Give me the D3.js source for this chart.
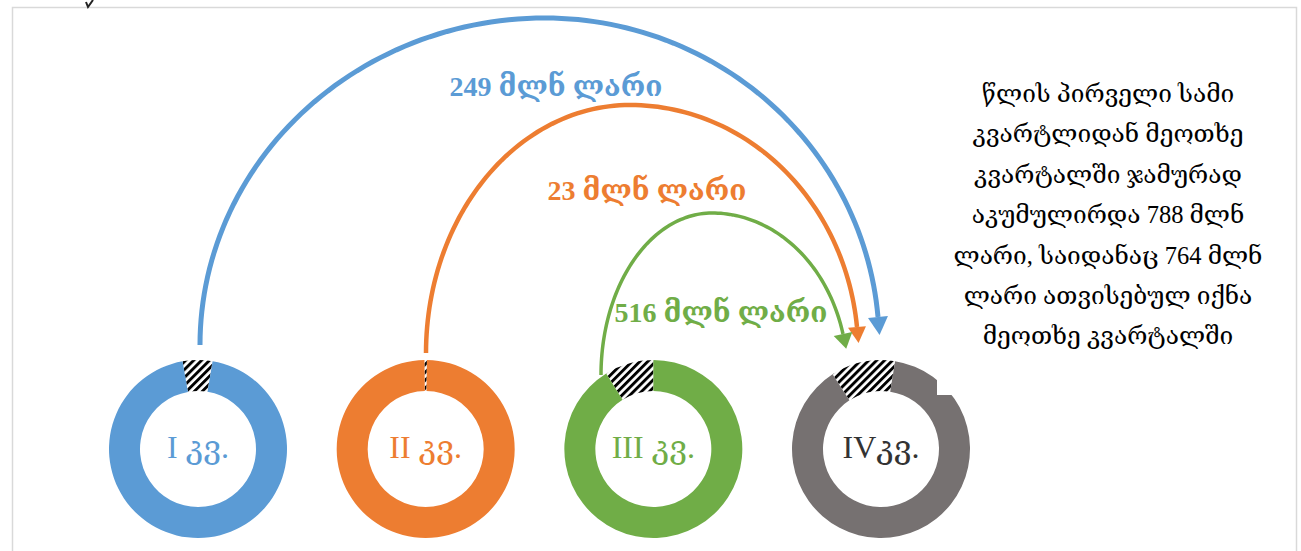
<!DOCTYPE html>
<meta charset="utf-8">
<style>
body { margin: 0; background: #fff; }
text { font-family: "Liberation Serif", "DejaVu Serif", serif; }
</style>
<body>
<script src="https://d3js.org/d3.v7.min.js"></script>
<script>

// data
var quarters = ["I", "II", "III", "IV"];
var quarterLabels = ["I კვ.", "II კვ.", "III კვ.", "IVკვ."];
var hatchShare = [0.054, 0.0045, 0.089, 0.117];   // share of ring that is hatched
var hatchOffset = [-10, -0.8, -32, -33];           // degrees from 12 o'clock
var flowFrom = [0, 1, 2];
var flowTo = 3;
var flowValues = [249, 23, 516];
var flowLabels = ["249 მლნ ლარი", "23 მლნ ლარი", "516 მლნ ლარი"];
var noteLines = [
  "წლის პირველი სამი",
  "კვარტლიდან მეოთხე",
  "კვარტალში ჯამურად",
  "აკუმულირდა 788 მლნ",
  "ლარი, საიდანაც 764 მლნ",
  "ლარი ათვისებულ იქნა",
  "მეოთხე კვარტალში"
];
var colors = ["#5b9bd5", "#ed7d31", "#70ad47", "#767171"];
var labelColors = ["#5b9bd5", "#ed7d31", "#70ad47", "#333333"];

var W = 1301, H = 551;
var cy = 449, rOuter = 89, rInner = 58;

var x = d3.scaleLinear().domain([0, 3]).range([198, 881]);

var svg = d3.select("body").append("svg")
    .attr("width", W)
    .attr("height", H);

var defs = svg.append("defs");
var pat = defs.append("pattern")
    .attr("id", "hatch")
    .attr("patternUnits", "userSpaceOnUse")
    .attr("width", 5.6).attr("height", 5.6)
    .attr("patternTransform", "rotate(45)");
pat.append("rect").attr("width", 5.6).attr("height", 5.6).attr("fill", "#fff");
pat.append("rect").attr("width", 2.9).attr("height", 5.6).attr("fill", "#000");

// frame
svg.append("rect")
    .attr("x", 12.5).attr("y", 7.5)
    .attr("width", 1284).attr("height", 600)
    .attr("fill", "#fff")
    .attr("stroke", "#d9d9d9")
    .attr("stroke-width", 1.5);

// little stray mark at top
svg.append("path")
    .attr("d", "M93,0 L88,7 L86,2")
    .attr("fill", "none")
    .attr("stroke", "#222")
    .attr("stroke-width", 2);

// donuts
var arc = d3.arc().innerRadius(rInner).outerRadius(rOuter);

quarters.forEach(function(q, i) {
  var pie = d3.pie().sort(null)
      .startAngle(hatchOffset[i] * Math.PI / 180)
      .endAngle(hatchOffset[i] * Math.PI / 180 + 2 * Math.PI);
  var slices = pie([hatchShare[i], 1 - hatchShare[i]]);
  var g = svg.append("g").attr("transform", "translate(" + x(i) + "," + cy + ")");
  g.selectAll("path")
      .data(slices)
    .enter().append("path")
      .attr("d", arc)
      .attr("fill", function(d, j) { return j === 0 ? "url(#hatch)" : colors[i]; });
  g.append("text")
      .attr("y", 9)
      .attr("text-anchor", "middle")
      .attr("font-size", 32)
      .attr("fill", labelColors[i])
      .text(quarterLabels[i]);
});

// note box (covers corner of IV ring)
svg.append("rect")
    .attr("x", 937).attr("y", 60)
    .attr("width", 356).attr("height", 335)
    .attr("fill", "#fff");

svg.append("g").selectAll("text")
    .data(noteLines)
  .enter().append("text")
    .attr("x", 1108)
    .attr("y", function(d, i) { return 102 + i * 40.4; })
    .attr("text-anchor", "middle")
    .attr("font-size", 24.5)
    .attr("fill", "#000")
    .text(function(d) { return d; });

// flow arrows
var flowTop = [18, 105, 213];
var flowTopX = [545, 630, 712];
var flowStart = [[200, 345], [426, 353], [601, 375]];
var flowBase = [[878, 317], [857, 327], [843, 334]];
var flowWidth = [5, 4.5, 3.5];
var headLen = [18, 16, 15];
var headW = [20, 18, 19];
var labelPos = [[556, 96], [647, 200], [721, 322]];

var line = d3.line();

flowFrom.forEach(function(f, k) {
  var x0 = flowStart[k][0], yc = flowStart[k][1];
  var xm = flowTopX[k], ry = yc - flowTop[k];
  var rxL = xm - x0;
  var tEnd = Math.asin((yc - flowBase[k][1]) / ry);
  var rxR = (flowBase[k][0] - xm) / Math.cos(tEnd);
  var pts = [];
  var n = 60;
  for (var s = 0; s <= n; s++) {
    var t = Math.PI / 2 * s / n;
    pts.push([xm - rxL * Math.cos(t), yc - ry * Math.sin(t)]);
  }
  for (var s2 = 1; s2 <= n; s2++) {
    var t2 = Math.PI / 2 - (Math.PI / 2 - tEnd) * s2 / n;
    pts.push([xm + rxR * Math.cos(t2), yc - ry * Math.sin(t2)]);
  }
  svg.append("path")
      .attr("d", line(pts))
      .attr("fill", "none")
      .attr("stroke", colors[f])
      .attr("stroke-width", flowWidth[k]);

  // arrowhead along the tangent at the end
  var dx = rxR * Math.sin(tEnd), dy = ry * Math.cos(tEnd);
  var len = Math.sqrt(dx * dx + dy * dy);
  var ux = dx / len, uy = dy / len;
  var bx = flowBase[k][0], by = flowBase[k][1];
  var tip = [bx + ux * headLen[k], by + uy * headLen[k]];
  var c1 = [bx - uy * headW[k] / 2, by + ux * headW[k] / 2];
  var c2 = [bx + uy * headW[k] / 2, by - ux * headW[k] / 2];
  svg.append("path")
      .attr("d", "M" + tip + "L" + c1 + "L" + c2 + "Z")
      .attr("fill", colors[f]);

  svg.append("text")
      .attr("x", labelPos[k][0])
      .attr("y", labelPos[k][1])
      .attr("text-anchor", "middle")
      .attr("font-size", 28)
      .attr("font-weight", "bold")
      .attr("fill", colors[f])
      .text(flowLabels[k]);
});

</script>
